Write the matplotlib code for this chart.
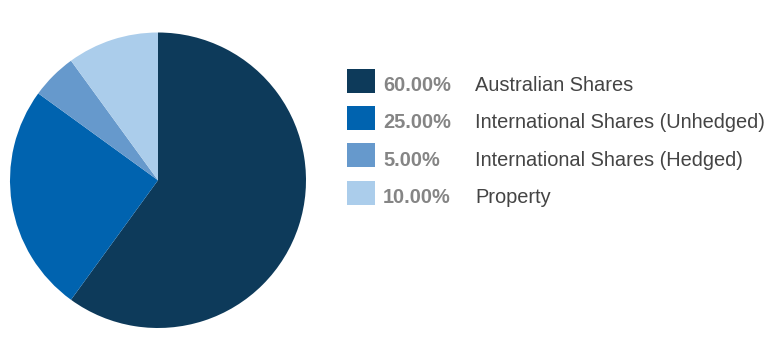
import matplotlib
matplotlib.use("Agg")
import matplotlib.pyplot as plt
from matplotlib.patches import Rectangle

categories = ["Australian Shares", "International Shares (Unhedged)",
              "International Shares (Hedged)", "Property"]
values = [60.0, 25.0, 5.0, 10.0]
colors = ["#0d3a5a", "#0063af", "#6699cc", "#abcdeb"]

W, H = 783, 357
fig = plt.figure(figsize=(W / 100, H / 100), dpi=100)
fig.patch.set_facecolor("white")

# pie axes in pixel box (10, 32.7) - (306, 328)
ax = fig.add_axes([10 / W, (H - 328) / H, 296 / W, 295.5 / H])
ax.pie(values, colors=colors, startangle=90, counterclock=False,
       radius=1, wedgeprops=dict(linewidth=0))
ax.set_xlim(-1, 1)
ax.set_ylim(-1, 1)
ax.set_aspect("auto")
ax.axis("off")

font = "Liberation Sans"
row_tops = [69, 106, 143, 181]
baselines = [91, 128.3, 166, 203]
for top, base, cat, val, col in zip(row_tops, baselines, categories, values, colors):
    fig.patches.append(Rectangle((347 / W, (H - top - 24) / H), 28 / W, 24 / H,
                                 transform=fig.transFigure, facecolor=col,
                                 edgecolor="none"))
    yb = (H - base) / H
    fig.text(383 / W, yb, f"{val:.2f}%", fontsize=14.4, fontweight="bold",
             color="#858585", family=font, va="baseline", ha="left")
    fig.text(475 / W, yb, cat, fontsize=14.4, color="#444444",
             family=font, va="baseline", ha="left")

fig.savefig("out.png", dpi=100, facecolor="white")
